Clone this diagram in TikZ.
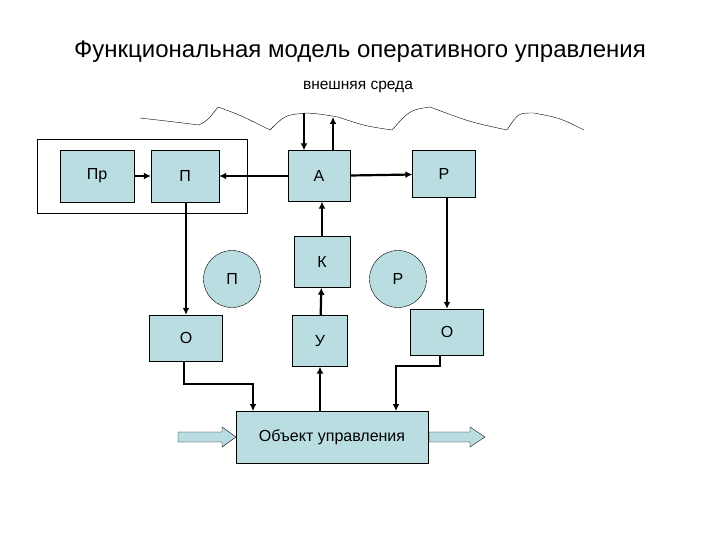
\documentclass[tikz,border=0pt]{standalone}
\usepackage{fontspec}
\setmainfont{Liberation Sans}
\usetikzlibrary{arrows.meta}
\definecolor{bx}{HTML}{BADDE2}
\begin{document}
\begin{tikzpicture}[x=1pt,y=-1pt,
 box/.style={draw,fill=bx,minimum width=#1,inner sep=0pt,font=\fontsize{16}{18}\selectfont},
 crc/.style={draw,fill=bx,circle,minimum size=57pt,font=\fontsize{16}{18}\selectfont},
 ar/.style={line width=2.2pt,-{Latex[length=7pt,width=7pt]}},
 fat/.style={draw,fill=bx}]
\useasboundingbox (0,0) rectangle (720,540);
\node at (360,52) {\fontsize{24}{26}\selectfont Функциональная модель оперативного управления};
\node at (358,87) {\fontsize{15.5}{18}\selectfont внешняя среда};
\draw (140,118) .. controls (175,122) .. (199,125) .. controls (208,120) .. (218,107) .. controls (240,115) .. (270,130) .. controls (285,115) .. (307,113) .. controls (320,114) .. (338,117) .. controls (365,126) .. (392,130) .. controls (410,110) .. (430,107) .. controls (470,122) .. (507,130) .. controls (518,113) .. (534,113) .. controls (560,118) .. (584,130);
\draw (37,139) rectangle (247,213);
\node[box=74pt,minimum height=52pt] (pr) at (97,176) {Пр};
\node[box=68pt,minimum height=52pt] (p) at (185,176) {П};
\node[box=62pt,minimum height=51pt] (a) at (319,176) {А};
\node[box=63pt,minimum height=47pt] (r) at (444,174) {Р};
\node[box=56pt,minimum height=51pt] (k) at (322,262) {К};
\node[crc] (cp) at (232,279) {П};
\node[crc] (cr) at (398,279) {Р};
\node[box=73pt,minimum height=46pt] (ol) at (186,338) {О};
\node[box=55pt,minimum height=51pt] (u) at (320,341) {У};
\node[box=73pt,minimum height=46pt] (or) at (447,332) {О};
\node[box=192pt,minimum height=52pt,font=\fontsize{16}{18}\selectfont] (ob) at (332,437) {Объект управления};
\draw[fat] (178,432) -- (222,432) -- (222,427) -- (236,437) -- (222,447) -- (222,442) -- (178,442) -- cycle;
\draw[fat] (429,432) -- (470,432) -- (470,427) -- (485,437) -- (470,447) -- (470,442) -- (429,442) -- cycle;
\coordinate (w1) at (304,113);
\coordinate (w2) at (333,117);
\draw[ar] (w1) -- (w1 |- a.north);
\draw[ar] (w2 |- a.north) -- (w2);
\draw[ar] (pr) -- (p);
\draw[ar] (a) -- (p);
\draw[ar] (a) -- (r);
\draw[ar] (k) -- (k |- a.south);
\draw[ar] (u) -- (k);
\draw[ar] (ob.north -| u) -- (u);
\draw[ar] (p.south -| ol) -- (ol);
\draw[ar] (r.south -| or) -- (or);
\draw[ar] (184,361) |- (253,384) -- (253,411);
\draw[ar] (440,355) |- (396,366) -- (396,411);
\end{tikzpicture}
\end{document}
